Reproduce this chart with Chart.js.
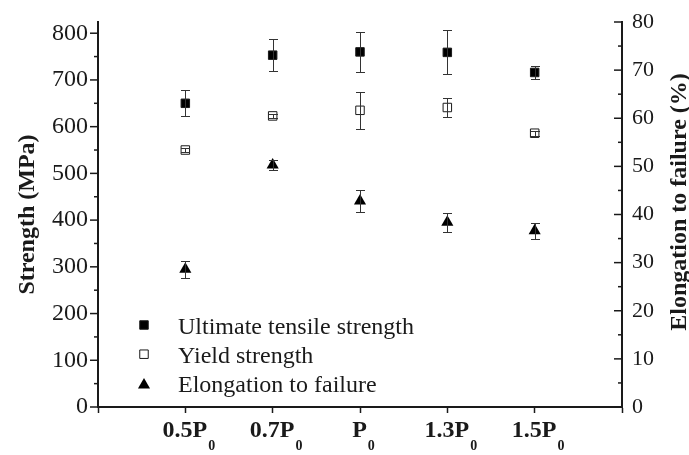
<!DOCTYPE html>
<html>
<head>
<meta charset="utf-8">
<script src="https://cdn.jsdelivr.net/npm/chart.js@4.4.1/dist/chart.umd.min.js"></script>
<style>
  body { margin: 0; background: #fff; }
  canvas { display: block; }
</style>
</head>
<body>
<canvas id="chart" width="689" height="455"></canvas>
<script>
// values
var categories = ['0.5P0', '0.7P0', 'P0', '1.3P0', '1.5P0'];
var utsValues = [650, 753, 760, 759, 716];
var utsErrors = [28, 34, 43, 47, 14];
var yieldValues = [550, 623, 635, 641, 586];
var yieldErrors = [5, 5, 40, 20, 5];
var elongValues = [28.6, 50.3, 42.8, 38.4, 36.6];
var elongErrors = [1.7, 1, 2.2, 2.0, 1.7];
var strengthTicks = [0, 100, 200, 300, 400, 500, 600, 700, 800];
var elongTicks = [0, 10, 20, 30, 40, 50, 60, 70, 80];

var FONT = "'Liberation Serif', 'Times New Roman', serif";
var INK = '#1a1a1a';
Chart.defaults.font.family = FONT;
Chart.defaults.color = INK;

function points(vals) {
  return vals.map(function(v, i) { return {x: i + 1, y: v}; });
}

function midpoints(t) {
  var out = [];
  for (var i = 0; i < t.length - 1; i++) out.push((t[i] + t[i + 1]) / 2);
  return out;
}

function drawSquare(ctx, x, y, fill) {
  var s = 6 * Math.SQRT1_2;
  ctx.beginPath();
  ctx.rect(x - s, y - s, 2 * s, 2 * s);
  ctx.fillStyle = fill;
  ctx.fill();
  ctx.lineWidth = 1;
  ctx.strokeStyle = INK;
  ctx.stroke();
}

function drawTriangle(ctx, x, y) {
  var r = 7;
  ctx.beginPath();
  ctx.moveTo(x, y - r);
  ctx.lineTo(x + Math.sin(Math.PI / 3) * r, y + r / 2);
  ctx.lineTo(x - Math.sin(Math.PI / 3) * r, y + r / 2);
  ctx.closePath();
  ctx.fillStyle = '#000';
  ctx.fill();
}

var extras = {
  id: 'extras',
  afterDatasetsDraw: function(chart) {
    var ctx = chart.ctx;
    var xs = chart.scales.x;
    ctx.save();
    ctx.strokeStyle = '#333';
    ctx.lineWidth = 1;
    chart.data.datasets.forEach(function(ds) {
      var ys = chart.scales[ds.yAxisID];
      ds.data.forEach(function(p, i) {
        var x = Math.round(xs.getPixelForValue(p.x)) + 0.5;
        var top = Math.round(ys.getPixelForValue(p.y + ds.errors[i])) + 0.5;
        var bot = Math.round(ys.getPixelForValue(p.y - ds.errors[i])) + 0.5;
        ctx.beginPath();
        ctx.moveTo(x, top); ctx.lineTo(x, bot);
        ctx.moveTo(x - 4.5, top); ctx.lineTo(x + 4.5, top);
        ctx.moveTo(x - 4.5, bot); ctx.lineTo(x + 4.5, bot);
        ctx.stroke();
      });
    });
    ctx.restore();
  },
  afterDraw: function(chart) {
    var ctx = chart.ctx;
    var area = chart.chartArea;
    var xs = chart.scales.x, yl = chart.scales.y, yr = chart.scales.y2;
    ctx.save();
    ctx.strokeStyle = INK;
    ctx.lineWidth = 1.5;

    // tick marks: left axis outward, right axis inward
    function ticks(scale, vals, len, xEdge, dir) {
      vals.forEach(function(v) {
        var y = scale.getPixelForValue(v);
        ctx.beginPath();
        ctx.moveTo(xEdge, y);
        ctx.lineTo(xEdge + dir * len, y);
        ctx.stroke();
      });
    }
    ticks(yl, strengthTicks, 8, area.left, -1);
    ticks(yl, midpoints(strengthTicks), 4, area.left, -1);
    ticks(yr, elongTicks, 8, area.right, -1);
    ticks(yr, midpoints(elongTicks), 4, area.right, -1);

    // category labels with subscript 0
    ctx.fillStyle = INK;
    ctx.textBaseline = 'alphabetic';
    categories.forEach(function(c, i) {
      var base = c.slice(0, -1), sub = c.slice(-1);
      ctx.font = 'bold 24px ' + FONT;
      var wb = ctx.measureText(base).width;
      ctx.font = 'bold 14px ' + FONT;
      var ws = ctx.measureText(sub).width;
      var x = xs.getPixelForValue(i + 1) - (wb + ws) / 2 + 3;
      ctx.textAlign = 'left';
      ctx.font = 'bold 24px ' + FONT;
      ctx.fillText(base, x, area.bottom + 30);
      ctx.font = 'bold 14px ' + FONT;
      ctx.fillText(sub, x + wb + 1, area.bottom + 43);
    });

    // legend inside the plot, lower left
    var lx = area.left + 46;
    var rows = [
      {label: chart.data.datasets[0].label, kind: 'filled'},
      {label: chart.data.datasets[1].label, kind: 'open'},
      {label: chart.data.datasets[2].label, kind: 'tri'}
    ];
    rows.forEach(function(r, i) {
      var base = area.bottom - 73.5 + i * 29.2;
      var my = base - 8.5;
      if (r.kind === 'filled') drawSquare(ctx, lx, my, '#000');
      else if (r.kind === 'open') drawSquare(ctx, lx, my, '#fff');
      else drawTriangle(ctx, lx, my + 1.5);
      ctx.fillStyle = INK;
      ctx.font = '24px ' + FONT;
      ctx.textAlign = 'left';
      ctx.fillText(r.label, lx + 34, base);
    });

    // right axis title, reading bottom to top
    ctx.translate(680, 202);
    ctx.rotate(-Math.PI / 2);
    ctx.font = 'bold 24px ' + FONT;
    ctx.textAlign = 'center';
    ctx.textBaseline = 'middle';
    ctx.fillText('Elongation to failure (%)', 0, 0);
    ctx.restore();
  }
};

new Chart(document.getElementById('chart'), {
  type: 'scatter',
  data: {
    datasets: [{
      label: 'Ultimate tensile strength',
      data: points(utsValues),
      errors: utsErrors,
      yAxisID: 'y',
      pointStyle: 'rect',
      pointRadius: 6,
      backgroundColor: '#000',
      borderColor: INK,
      borderWidth: 1
    }, {
      label: 'Yield strength',
      data: points(yieldValues),
      errors: yieldErrors,
      yAxisID: 'y',
      pointStyle: 'rect',
      pointRadius: 6,
      backgroundColor: '#fff',
      borderColor: INK,
      borderWidth: 1
    }, {
      label: 'Elongation to failure',
      data: points(elongValues),
      errors: elongErrors,
      yAxisID: 'y2',
      pointStyle: 'triangle',
      pointRadius: 7,
      backgroundColor: '#000',
      borderColor: '#000',
      borderWidth: 0
    }]
  },
  options: {
    responsive: false,
    animation: false,
    layout: {padding: {top: 22, right: 0, bottom: 0, left: 0}},
    plugins: {legend: {display: false}, tooltip: {enabled: false}},
    scales: {
      x: {
        type: 'linear',
        min: 0,
        max: categories.length + 1,
        ticks: {display: false, stepSize: 1},
        grid: {drawOnChartArea: false, drawTicks: true, tickLength: 6, color: INK, tickWidth: 1.5},
        border: {display: true, color: INK, width: 2},
        afterFit: function(s) { s.height = 48; s.paddingLeft = 0; s.paddingRight = 0; }
      },
      y: {
        position: 'left',
        min: 0,
        max: 824,
        afterBuildTicks: function(s) { s.ticks = strengthTicks.map(function(v) { return {value: v}; }); },
        ticks: {padding: 10, font: {size: 24}, color: INK},
        grid: {display: false, drawTicks: false},
        border: {display: true, color: INK, width: 2},
        title: {display: true, text: 'Strength (MPa)', font: {size: 24, weight: 'bold'}, padding: {top: 13, bottom: 0}, color: INK},
        afterFit: function(s) { s.width = 98; s.paddingTop = 0; s.paddingBottom = 0; }
      },
      y2: {
        position: 'right',
        min: 0,
        max: 80,
        afterBuildTicks: function(s) { s.ticks = elongTicks.map(function(v) { return {value: v}; }); },
        ticks: {padding: 10, font: {size: 22}, color: INK},
        grid: {display: false, drawTicks: false},
        border: {display: true, color: INK, width: 2},
        afterFit: function(s) { s.width = 67; s.paddingTop = 0; s.paddingBottom = 0; }
      }
    }
  },
  plugins: [extras]
});
</script>
</body>
</html>
